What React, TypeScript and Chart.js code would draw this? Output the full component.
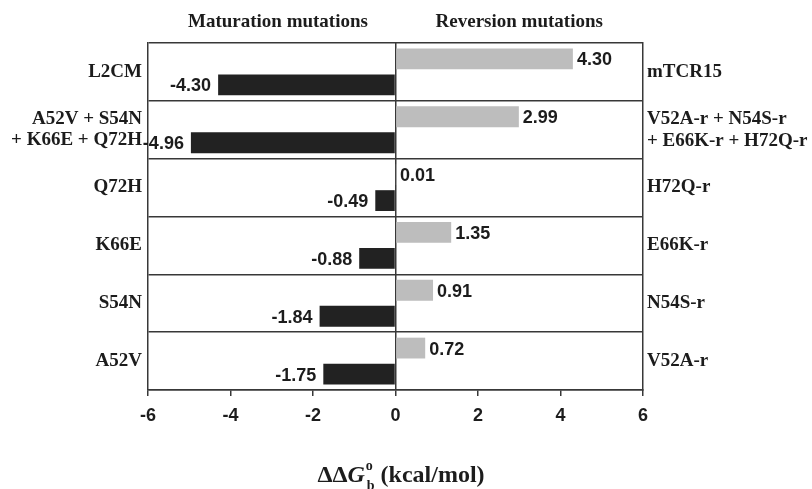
import React, { useEffect, useRef } from "react";
import { Chart, registerables } from "chart.js";

Chart.register(...registerables);

const leftLabels: (string | string[])[] = [
  "L2CM",
  ["A52V + S54N", "+ K66E + Q72H"],
  "Q72H",
  "K66E",
  "S54N",
  "A52V",
];
const rightLabels: (string | string[])[] = [
  "mTCR15",
  ["V52A-r + N54S-r", "+ E66K-r + H72Q-r"],
  "H72Q-r",
  "E66K-r",
  "N54S-r",
  "V52A-r",
];
const reversionValues = [4.3, 2.99, 0.01, 1.35, 0.91, 0.72];
const maturationValues = [-4.3, -4.96, -0.49, -0.88, -1.84, -1.75];
const xTicks = [-6, -4, -2, 0, 2, 4, 6];

const SERIF = "'Liberation Serif', 'Times New Roman', serif";
const SANS = "'Liberation Sans', Arial, sans-serif";
const INK = "#1c1c1c";
const LINE = "#383838";

const valueLabels = {
  id: "valueLabels",
  afterDatasetsDraw(chart: any) {
    const ctx = chart.ctx;
    ctx.save();
    ctx.font = `bold 18px ${SANS}`;
    ctx.fillStyle = INK;
    ctx.textBaseline = "middle";
    chart.data.datasets.forEach((ds: any, di: number) => {
      const meta = chart.getDatasetMeta(di);
      meta.data.forEach((el: any, i: number) => {
        const v = ds.data[i] as number;
        const txt = v.toFixed(2);
        if (v >= 0) {
          ctx.textAlign = "left";
          ctx.fillText(txt, el.x + 4, el.y + 1.5);
        } else {
          ctx.textAlign = "right";
          ctx.fillText(txt, el.x - 7, el.y + 1.5);
        }
      });
    });
    ctx.restore();
  },
};

const titles = {
  id: "titles",
  afterDraw(chart: any) {
    const ctx = chart.ctx;
    const xs = chart.scales.x;
    ctx.save();
    ctx.fillStyle = INK;
    ctx.textBaseline = "middle";
    ctx.textAlign = "center";
    ctx.font = `bold 19px ${SERIF}`;
    ctx.fillText("Maturation mutations", xs.getPixelForValue(-2.85), 22);
    ctx.fillText("Reversion mutations", xs.getPixelForValue(3), 22);

    // axis title: ΔΔG°_b (kcal/mol)
    const base = 482;
    const big = `bold 24px ${SERIF}`;
    const ital = `italic bold 24px ${SERIF}`;
    const small = `bold 14px ${SERIF}`;
    ctx.textBaseline = "alphabetic";
    ctx.textAlign = "left";
    ctx.font = big;
    const wD = ctx.measureText("ΔΔ").width;
    ctx.font = ital;
    const wG = ctx.measureText("G").width;
    ctx.font = small;
    const wS = Math.max(ctx.measureText("o").width, ctx.measureText("b").width) + 2;
    ctx.font = big;
    const wR = ctx.measureText(" (kcal/mol)").width;
    const total = wD + wG + wS + wR;
    let x = 401 - total / 2;
    ctx.font = big;
    ctx.fillText("ΔΔ", x, base);
    x += wD;
    ctx.font = ital;
    ctx.fillText("G", x, base);
    x += wG;
    ctx.font = small;
    ctx.fillText("o", x + 1, base - 12);
    ctx.fillText("b", x + 2, base + 8);
    x += wS;
    ctx.font = big;
    ctx.fillText(" (kcal/mol)", x, base);
    ctx.restore();
  },
};

export default function App() {
  const ref = useRef<HTMLCanvasElement | null>(null);

  useEffect(() => {
    const canvas = ref.current;
    if (!canvas) return;
    const chart = new Chart(canvas, {
      type: "bar",
      data: {
        labels: leftLabels as any,
        datasets: [
          {
            label: "Reversion mutations",
            data: reversionValues,
            backgroundColor: "#bdbdbd",
            yAxisID: "y",
            categoryPercentage: 0.9,
            barPercentage: 0.8,
          },
          {
            label: "Maturation mutations",
            data: maturationValues,
            backgroundColor: "#222222",
            yAxisID: "y",
            categoryPercentage: 0.9,
            barPercentage: 0.8,
          },
        ],
      },
      options: {
        indexAxis: "y",
        responsive: false,
        animation: false,
        devicePixelRatio: 1,
        layout: { padding: { top: 43, left: 0, right: 0, bottom: 0 } },
        plugins: {
          legend: { display: false },
          tooltip: { enabled: false },
          title: { display: false },
        },
        scales: {
          x: {
            type: "linear",
            min: -6,
            max: 6,
            afterBuildTicks: (scale: any) => {
              scale.ticks = xTicks.map((v) => ({ value: v }));
            },
            ticks: {
              font: { family: SANS, size: 18, weight: "bold" },
              color: INK,
              padding: 9,
              maxRotation: 0,
            },
            grid: {
              color: (c: any) => (c.tick && c.tick.value === 0 ? LINE : "transparent"),
              lineWidth: 1.5,
              tickColor: LINE,
              tickLength: 6,
              drawTicks: true,
            },
            border: { display: true, color: LINE, width: 1.5 },
            afterFit: (scale: any) => {
              scale.height = 99;
            },
          },
          y: {
            type: "category",
            position: "left",
            labels: leftLabels as any,
            offset: true,
            ticks: {
              font: { family: SERIF, size: 19, weight: "bold", lineHeight: 1.08 },
              color: INK,
              padding: 6,
              autoSkip: false,
            },
            grid: {
              offset: true,
              color: LINE,
              lineWidth: 1.5,
              drawTicks: false,
            },
            border: { display: true, color: LINE, width: 1.5 },
            afterFit: (scale: any) => {
              scale.width = 148;
            },
          },
          y2: {
            type: "category",
            position: "right",
            display: true,
            labels: rightLabels as any,
            offset: true,
            ticks: {
              font: { family: SERIF, size: 19, weight: "bold", lineHeight: 1.15 },
              color: INK,
              padding: 4,
              autoSkip: false,
            },
            grid: { display: false, drawTicks: false },
            border: { display: true, color: LINE, width: 1.5 },
            afterFit: (scale: any) => {
              scale.width = 169;
            },
          },
        } as any,
      },
      plugins: [valueLabels, titles],
    });
    return () => chart.destroy();
  }, []);

  return (
    <div style={{ position: "absolute", left: 0, top: 0, width: 812, height: 489, background: "#fff" }}>
      <canvas ref={ref} width={812} height={489} style={{ display: "block" }} />
    </div>
  );
}
